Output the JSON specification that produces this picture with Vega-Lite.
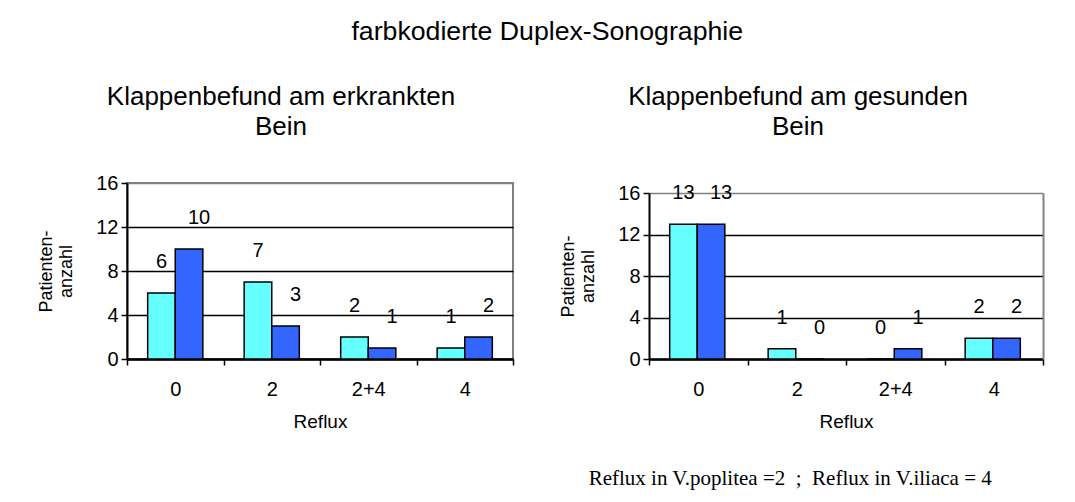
{
  "$schema": "https://vega.github.io/schema/vega-lite/v6.json",
  "background": "white",
  "padding": {"left": 36, "top": 19, "right": 5, "bottom": 5},
  "config": {
    "font": "Liberation Sans",
    "view": {"stroke": "#808080", "strokeWidth": 2},
    "axis": {"domainColor": "black", "domainWidth": 2, "tickColor": "black", "tickWidth": 1.5, "labelColor": "black", "titleColor": "black", "labelFont": "Liberation Sans", "titleFont": "Liberation Sans", "titleFontWeight": "normal"},
    "title": {"color": "black", "fontWeight": "normal", "font": "Liberation Sans"},
    "concat": {"spacing": 44}
  },
  "datasets": {
    "erkrankt": [
      {"reflux": "0", "reihe": "Reihe 1", "anzahl": 6},
      {"reflux": "0", "reihe": "Reihe 2", "anzahl": 10},
      {"reflux": "2", "reihe": "Reihe 1", "anzahl": 7},
      {"reflux": "2", "reihe": "Reihe 2", "anzahl": 3},
      {"reflux": "2+4", "reihe": "Reihe 1", "anzahl": 2},
      {"reflux": "2+4", "reihe": "Reihe 2", "anzahl": 1},
      {"reflux": "4", "reihe": "Reihe 1", "anzahl": 1},
      {"reflux": "4", "reihe": "Reihe 2", "anzahl": 2}
    ],
    "gesund": [
      {"reflux": "0", "reihe": "Reihe 1", "anzahl": 13},
      {"reflux": "0", "reihe": "Reihe 2", "anzahl": 13},
      {"reflux": "2", "reihe": "Reihe 1", "anzahl": 1},
      {"reflux": "2", "reihe": "Reihe 2", "anzahl": 0},
      {"reflux": "2+4", "reihe": "Reihe 1", "anzahl": 0},
      {"reflux": "2+4", "reihe": "Reihe 2", "anzahl": 1},
      {"reflux": "4", "reihe": "Reihe 1", "anzahl": 2},
      {"reflux": "4", "reihe": "Reihe 2", "anzahl": 2}
    ]
  },
  "title": {"text": "farbkodierte Duplex-Sonographie", "fontSize": 26.7, "offset": 37, "anchor": "middle", "dx": 7},
  "vconcat": [
    {
      "title": {"text": "Reflux in V.poplitea =2\u00a0 ;\u00a0 Reflux in V.iliaca = 4", "orient": "bottom", "anchor": "end", "font": "Liberation Serif", "fontSize": 21, "offset": 36, "dx": -52},
      "hconcat": [
        {
          "width": 386,
          "height": 176,
          "data": {"name": "erkrankt"},
          "title": {"text": ["Klappenbefund am erkrankten", "Bein"], "fontSize": 26, "lineHeight": 30, "offset": 33, "dx": -39},
          "encoding": {
            "x": {"field": "reflux", "type": "nominal", "sort": ["0", "2", "2+4", "4"], "scale": {"paddingInner": 0, "paddingOuter": 0}, "axis": {"title": "Reflux", "labelAngle": 0, "tickBand": "extent", "tickSize": 6, "labelFontSize": 20, "titleFontSize": 19, "labelPadding": 14, "titlePadding": 13, "domainWidth": 2.5}},
            "xOffset": {"field": "reihe", "type": "nominal", "scale": {"paddingOuter": 0.75, "paddingInner": 0}},
            "y": {"field": "anzahl", "type": "quantitative", "scale": {"domain": [0, 16]}, "axis": {"values": [0, 4, 8, 12, 16], "title": ["Patienten-", "anzahl"], "titleFontSize": 18, "labelFontSize": 20, "gridColor": {"condition": {"test": "datum.value == 16", "value": "#808080"}, "value": "black"}, "gridWidth": 1.5, "tickSize": 6, "labelPadding": 3, "titlePadding": 20}}
          },
          "layer": [
            {"mark": {"type": "bar", "stroke": "black", "strokeWidth": 1.5}, "encoding": {"color": {"field": "reihe", "type": "nominal", "scale": {"range": ["#66FFFF", "#3366FF"]}, "legend": null}}},
            {"transform": [{"filter": "datum.reihe == 'Reihe 1'"}], "mark": {"type": "text", "fontSize": 20, "baseline": "middle", "dy": -31, "color": "black"}, "encoding": {"text": {"field": "anzahl", "type": "quantitative"}}},
            {"transform": [{"filter": "datum.reihe == 'Reihe 2'"}], "mark": {"type": "text", "fontSize": 20, "baseline": "middle", "dy": -31, "dx": 10, "color": "black"}, "encoding": {"text": {"field": "anzahl", "type": "quantitative"}}}
          ]
        },
        {
          "width": 394,
          "height": 176,
          "data": {"name": "gesund"},
          "view": {"stroke": null},
          "title": {"text": ["Klappenbefund am gesunden", "Bein"], "fontSize": 26, "lineHeight": 30, "offset": 43, "dx": -48},
          "encoding": {
            "x": {"field": "reflux", "type": "nominal", "sort": ["0", "2", "2+4", "4"], "scale": {"paddingInner": 0, "paddingOuter": 0}, "axis": {"title": "Reflux", "labelAngle": 0, "tickBand": "extent", "tickSize": 6, "labelFontSize": 20, "titleFontSize": 19, "labelPadding": 14, "titlePadding": 13, "domainWidth": 2.5}},
            "xOffset": {"field": "reihe", "type": "nominal", "scale": {"paddingOuter": 0.75, "paddingInner": 0}}
          },
          "resolve": {"axis": {"y": "independent"}},
          "layer": [
            {"mark": {"type": "bar", "stroke": "black", "strokeWidth": 1.5}, "encoding": {
              "y": {"field": "anzahl", "type": "quantitative", "scale": {"domain": [0, 16], "range": [176, 10]}, "axis": {"values": [0, 4, 8, 12, 16], "title": ["Patienten-", "anzahl"], "titleFontSize": 18, "labelFontSize": 20, "gridColor": {"condition": {"test": "datum.value == 16", "value": "#808080"}, "value": "black"}, "gridWidth": 1.5, "tickSize": 6, "labelPadding": 3, "titlePadding": 20}},
              "color": {"field": "reihe", "type": "nominal", "scale": {"range": ["#66FFFF", "#3366FF"]}, "legend": null}}},
            {"transform": [{"filter": "datum.reihe == 'Reihe 1'"}], "mark": {"type": "text", "fontSize": 20, "baseline": "middle", "dy": -31, "color": "black"}, "encoding": {
              "y": {"field": "anzahl", "type": "quantitative", "axis": null},
              "text": {"field": "anzahl", "type": "quantitative"}}},
            {"transform": [{"filter": "datum.reihe == 'Reihe 2'"}], "mark": {"type": "text", "fontSize": 20, "baseline": "middle", "dy": -31, "dx": 10, "color": "black"}, "encoding": {
              "y": {"field": "anzahl", "type": "quantitative", "axis": {"orient": "right", "labels": false, "ticks": false, "grid": false, "title": null, "domainColor": "#808080", "domainWidth": 2}},
              "text": {"field": "anzahl", "type": "quantitative"}}}
          ]
        }
      ]
    }
  ]
}
